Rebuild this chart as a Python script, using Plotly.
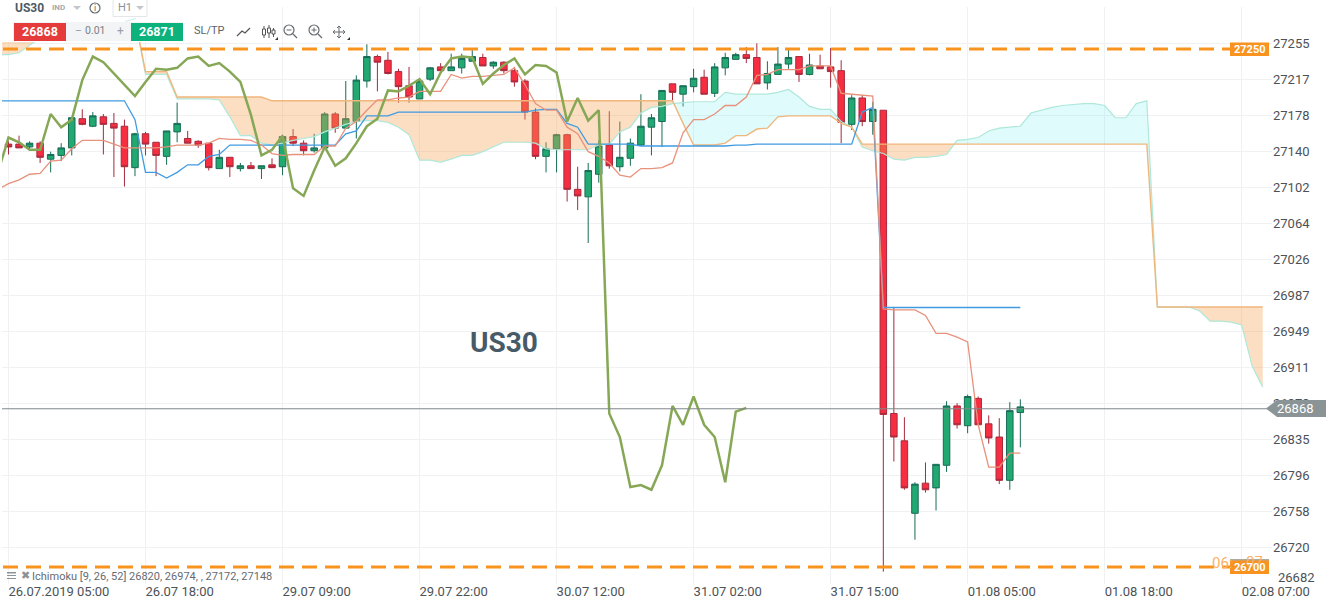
import plotly.graph_objects as go

# ---------- data ----------
bar_opens = [
27149,27149,27146,27150,27133,27137,27145,27176,27168,27178,
27171,27168,27124,27160,27151,27136,27162,27155,27152,27150,
27123,27135,27123,27126,27123,27127,27125,27157,27150,27142,
27145,27181,27166,27173,27216,27242,27238,27226,27211,27197,
27218,27231,27227,27230,27237,27241,27232,27236,27227,27216,
27183,27136,27144,27159,27101,27093,27117,27148,27125,27134,
27148,27167,27173,27213,27202,27210,27220,27203,27230,27239,
27244,27241,27214,27223,27234,27242,27223,27232,27231,27227,
27170,27198,27173,27185,26863,26834,26757,26789,26784,26808,
26871,26850,26879,26852,26838,26792,26864]
bar_closes = [
27146,27145,27150,27135,27138,27145,27177,27170,27179,27170,
27166,27125,27160,27149,27137,27163,27171,27150,27148,27124,
27135,27125,27126,27123,27126,27124,27157,27150,27142,27145,
27181,27166,27176,27217,27242,27236,27224,27210,27199,27216,
27230,27227,27231,27240,27242,27232,27236,27227,27215,27183,
27136,27144,27159,27101,27094,27121,27147,27126,27135,27150,
27168,27177,27206,27204,27211,27219,27202,27231,27241,27244,
27240,27213,27224,27234,27241,27223,27233,27229,27226,27172,
27198,27173,27186,26862,26838,26784,26788,26782,26809,26871,
26851,26881,26851,26837,26792,26866,26870]
bar_highs = [
27152,27158,27152,27152,27141,27150,27177,27186,27183,27181,
27182,27175,27161,27162,27151,27163,27193,27163,27153,27150,
27143,27135,27129,27130,27126,27134,27159,27165,27153,27160,
27183,27183,27216,27222,27255,27244,27247,27229,27231,27218,
27231,27235,27245,27245,27249,27245,27237,27237,27231,27218,
27187,27151,27160,27160,27125,27129,27153,27184,27173,27155,
27202,27181,27206,27213,27211,27229,27228,27235,27246,27246,
27252,27256,27237,27252,27249,27242,27245,27244,27251,27238,
27201,27201,27194,27185,26976,26859,26790,26811,26809,26876,
26874,26883,26881,26861,26858,26875,26878]
bar_lows = [
27138,27145,27142,27129,27119,27131,27137,27169,27167,27138,
27114,27104,27115,27137,27115,27127,27151,27150,27145,27121,
27123,27114,27120,27123,27112,27124,27116,27147,27137,27140,
27144,27161,27165,27155,27209,27205,27223,27193,27193,27197,
27216,27227,27227,27224,27237,27232,27229,27224,27210,27175,
27133,27119,27119,27088,27079,27044,27108,27123,27120,27126,
27147,27137,27146,27194,27189,27204,27202,27199,27222,27239,
27235,27213,27207,27223,27229,27215,27222,27229,27209,27150,
27164,27168,27159,26695,26812,26782,26729,26779,26760,26801,
26847,26842,26851,26831,26788,26782,26827]

# Ichimoku series: the first value of each belongs to the bar before the first candle
tenkan = [27101,
27107,27111,27117,27118,27131,27132,27144,27153,27153,27153,
27149,27145,27145,27145,27145,27146,27148,27148,27148,27150,
27155,27154,27154,27153,27148,27139,27137,27138,27138,27138,
27147,27147,27166,27173,27185,27196,27196,27198,27199,27205,
27205,27205,27223,27219,27221,27221,27222,27223,27230,27212,
27192,27185,27185,27167,27160,27141,27136,27129,27116,27114,
27123,27123,27124,27129,27161,27175,27175,27181,27190,27190,
27199,27222,27223,27228,27228,27228,27232,27232,27232,27203,
27202,27201,27200,26974,26973,26973,26973,26967,26948,26948,
26944,26939,26851,26806,26806,26821,26821]
kijun = [27195,
27195,27195,27195,27195,27195,27195,27195,27195,27195,27195,
27195,27195,27175,27119,27119,27113,27119,27127,27127,27136,
27138,27148,27148,27148,27148,27148,27148,27148,27148,27148,
27148,27148,27160,27163,27179,27179,27179,27183,27183,27183,
27183,27183,27183,27183,27183,27183,27183,27183,27183,27183,
27185,27186,27186,27171,27167,27149,27149,27149,27149,27149,
27147,27147,27147,27147,27147,27147,27147,27147,27147,27148,
27148,27149,27149,27149,27149,27149,27149,27149,27149,27149,
27149,27183,27188,26975.5,26975.5,26975.5,26975.5,26975.5,26975.5,26975.5,
26975.5,26975.5,26975.5,26975.5,26975.5,26975.5,26975.5]
chikou = [27119,
27156,27151,27143,27143,27181,27167,27175,27217,27242,27236,
27224,27211,27200,27215,27229,27228,27230,27240,27242,27232,
27235,27226,27215,27180,27137,27143,27158,27102,27094,27121,
27146,27126,27134,27150,27168,27176,27206,27205,27211,27218,
27202,27225,27240,27242,27241,27213,27224,27233,27240,27223,
27233,27232,27225,27173,27198,27174,27185,26863,26838,26785,
26787,26782,26808,26871,26851,26881,26851,26838,26790,26865,26869]
span_a = [27244,
27244,27246,27254,27262,27264,27264,27266,27267,27269,27272,
27275,27279,27282,27223,27223,27223,27197,27197,27197,27197,
27196,27178,27158,27158,27150,27148,27150,27153,27155,27157,
27162,27166,27170,27173,27174,27174,27172,27167,27159,27132,
27132,27130,27133,27137,27137,27141,27146,27151,27151,27151,
27150,27144,27143,27143,27143,27143,27148,27149,27162,27167,
27182,27188,27189,27192,27193,27194,27194,27194,27204,27202,
27202,27202,27202,27204,27207,27199,27189,27186,27186,27173,
27167,27146,27142,27139,27133,27132,27135,27135,27136,27138,
27153,27154,27156,27163,27166,27167,27168,27182,27185,27188,
27190,27191,27192,27192,27190,27177,27177,27192,27195,26976,
26976,26976,26976,26972,26961,26961,26960,26957,26913,26891]
span_b = [27282,
27282,27282,27282,27282,27282,27282,27282,27282,27282,27282,
27282,27282,27282,27226,27226,27226,27199,27199,27199,27199,
27199,27199,27199,27199,27199,27195,27195,27195,27195,27195,
27195,27195,27195,27195,27195,27195,27195,27195,27195,27195,
27195,27195,27195,27195,27195,27195,27195,27195,27195,27195,
27195,27195,27195,27195,27195,27195,27195,27195,27195,27195,
27195,27195,27195,27195,27171,27148,27148,27148,27150,27158,
27158,27165,27166,27178,27179,27179,27179,27179,27179,27171,
27167,27149,27149,27149,27149,27149,27149,27149,27149,27149,
27149,27149,27149,27149,27149,27149,27149,27149,27149,27149,
27149,27149,27149,27149,27149,27149,27149,27149,27149,26976,
26976,26976,26976,26976,26976,26976,26976,26976,26976,26976]

y_tick_vals = [27256.3,27218.1,27179.9,27141.7,27103.4,27065.2,27027.0,26988.8,
               26950.5,26912.3,26874.1,26835.9,26797.6,26759.4,26721.2,26683.0]
y_tick_labels = ["27255","27217","27178","27140","27102","27064","27026","26987",
                 "26949","26911","26873","26835","26796","26758","26720","26682"]
x_tick_bars = [0,13,26,39,52,65,78,91,104,117]
x_tick_labels = ["26.07.2019 05:00","26.07 18:00","29.07 09:00","29.07 22:00","30.07 12:00",
                 "31.07 02:00","31.07 15:00","01.08 05:00","01.08 18:00","02.08 07:00"]
level_high, level_low, last_price, bid, ask = 27250, 26700, 26868, 26868, 26871

# ---------- frame ----------
W, H = 1331, 603
L, R, T, B = 2, 1272, 7, 584
X0, DX = 8.5, 10.54
Y_AT_0, Y_PER_PX = 27302.03, 1.0618
x_range = [(L - X0) / DX, (R - X0) / DX]
y_range = [Y_AT_0 - B * Y_PER_PX, Y_AT_0 - T * Y_PER_PX]

def px(x): return (x - L) / (R - L)
def py(y): return (B - y) / (B - T)
def path(points, close=False):
    s = "M" + " L".join(f"{px(a):.5f},{py(b):.5f}" for a, b in points)
    return s + (" Z" if close else "")

shapes, notes = [], []
def poly(points, fill=None, line=None, width=1, close=True):
    shapes.append(dict(type="path", xref="paper", yref="paper", path=path(points, close),
                       fillcolor=fill if fill else "rgba(0,0,0,0)",
                       line=dict(color=line if line else "rgba(0,0,0,0)", width=width), layer="above"))
def rect(x0, y0, x1, y1, fill, line=None):
    shapes.append(dict(type="rect", xref="paper", yref="paper", x0=px(x0), x1=px(x1), y0=py(y1), y1=py(y0),
                       fillcolor=fill, line=dict(color=line if line else "rgba(0,0,0,0)", width=1), layer="above"))
def circle(x0, y0, x1, y1, line, width=1.2):
    shapes.append(dict(type="circle", xref="paper", yref="paper", x0=px(x0), x1=px(x1), y0=py(y1), y1=py(y0),
                       fillcolor="rgba(0,0,0,0)", line=dict(color=line, width=width), layer="above"))
def text(x, y, s, size=12, color="#555", bold=False, anchor="left", family="Roboto"):
    notes.append(dict(xref="paper", yref="paper", x=px(x), y=py(y), text=f"<b>{s}</b>" if bold else s,
                      showarrow=False, xanchor=anchor, yanchor="middle", borderpad=0,
                      font=dict(family=family, size=size, color=color)))

# ---------- traces ----------
fig = go.Figure()
bars = list(range(len(bar_opens)))
fig.add_trace(go.Candlestick(
    x=bars, open=bar_opens, high=bar_highs, low=bar_lows, close=bar_closes, whiskerwidth=0,
    increasing=dict(line=dict(color="#176b55", width=1), fillcolor="#22a972"),
    decreasing=dict(line=dict(color="#a52a3c", width=1), fillcolor="#f72e42"),
    showlegend=False, hoverinfo="skip"))

span_x = list(range(-1, len(span_a) - 1))
def cloud_runs():
    runs, cur, sign = [], [], None
    for k in range(len(span_x)):
        s = 1 if span_a[k] >= span_b[k] else -1
        if sign is not None and s != sign:
            d0 = span_a[k - 1] - span_b[k - 1]
            d1 = span_a[k] - span_b[k]
            t = d0 / (d0 - d1)
            xc = span_x[k - 1] + t
            yc = span_a[k - 1] + t * (span_a[k] - span_a[k - 1])
            cur.append((xc, yc, yc))
            runs.append((sign, cur))
            cur = [(xc, yc, yc)]
        cur.append((span_x[k], span_a[k], span_b[k]))
        sign = s
    runs.append((sign, cur))
    return runs
for sign, run in cloud_runs():
    xs = [r[0] for r in run] + [r[0] for r in reversed(run)]
    ys = [r[1] for r in run] + [r[2] for r in reversed(run)]
    fig.add_trace(go.Scatter(x=xs, y=ys, mode="lines", fill="toself", line=dict(width=0),
                             fillcolor="rgba(100,235,240,0.20)" if sign > 0 else "rgba(245,160,80,0.35)",
                             showlegend=False, hoverinfo="skip"))
def add_line(values, color, width):
    fig.add_trace(go.Scatter(x=list(range(-1, len(values) - 1)), y=values, mode="lines",
                             line=dict(color=color, width=width), showlegend=False, hoverinfo="skip"))
add_line(span_a, "#aee8da", 1.2)
add_line(span_b, "#f0b67c", 1.4)
add_line(kijun, "#3f9be2", 1.3)
add_line(tenkan, "#e8917b", 1.3)
add_line(chikou, "#86a856", 2.5)

# toolbar mask (sits above the cloud that runs behind the toolbar)
rect(0, 0, 185, 42, "#ffffff")
poly([(125, 21.5), (136, 18.5)], line="#c4f0ea", width=1, close=False)

# ---------- level lines ----------
x_dash_start = (3 - X0) / DX
x_box = (1230 - X0) / DX
for lv in (level_high, level_low):
    shapes.append(dict(type="line", xref="x", yref="y", x0=x_dash_start, x1=x_box, y0=lv, y1=lv, layer="above",
                       line=dict(color="#f7931e", width=3, dash="15px,8px")))
shapes.append(dict(type="line", xref="paper", yref="y", x0=0, x1=1, y0=last_price, y1=last_price, layer="above",
                   line=dict(color="#7f878a", width=1)))

# price tag
poly([(1266, 408.5), (1277, 400), (1326, 400), (1326, 417), (1277, 417)], fill="#8a9497")
text(1295, 408.8, str(last_price), 13, "#ffffff", False, "center")
rect(1230, 42.5, 1269, 56, "#f7931e")
text(1249.5, 49, str(level_high), 11, "#ffffff", True, "center")
text(1211, 562.5, "06:", 15, "#f9b266")
text(1245, 562, "07", 15, "#f9b266")
rect(1230, 559, 1269, 567, "rgba(150,140,125,0.75)")
rect(1230, 560.5, 1269, 574, "#f7931e")
text(1249.5, 567, str(level_low), 11, "#ffffff", True, "center")
text(1277, 577.5, y_tick_labels[-1], 13, "#4d5257")

# watermark + legend
text(504, 342, "US30", 28, "#475a68", True, "center", "Roboto")
rect(7, 572, 16, 573.5, "#8d9296"); rect(7, 575, 16, 576, "#8d9296"); rect(7, 578, 16, 579, "#8d9296")
text(19.5, 575.5, "✖", 11, "#8d9296")
text(31, 576, "Ichimoku [9, 26, 52] 26820, 26974, , 27172, 27148", 11, "#666b70")

# toolbar
text(14, 8, "US30", 12, "#4c5b66", True)
text(51, 8, "IND", 8, "#a4aab0", True)
poly([(73, 6), (81, 6), (77, 10)], fill="#c3c7cb")
circle(90, 3, 100, 13, "#666b70")
text(95, 8, "i", 9, "#666b70", False, "center")
rect(113, -1, 147, 16.5, "#ffffff", "#e4e6e8")
text(117, 8, "H1", 11, "#8d9296")
poly([(136, 6), (144, 6), (140, 10)], fill="#c3c7cb")
rect(13, 22, 183, 41, "#f3f4f5")
rect(14, 23, 66, 41, "#e53b3b")
rect(131, 23, 183, 41, "#0cb27c")
text(40, 32, str(bid), 12.5, "#ffffff", True, "center")
text(157, 32, str(ask), 12.5, "#ffffff", True, "center")
text(78, 31, "−", 12, "#9aa0a5", False, "center")
text(95, 31, "0.01", 10.5, "#7a8086", False, "center")
text(120, 31, "+", 12, "#9aa0a5", False, "center")
text(193, 31, "SL/TP", 11, "#5c6268")
poly([(237, 36), (242, 31), (245, 33), (250, 28)], line="#555", width=1.2, close=False)
for cx, top, bot, bt, bb in ((264, 26, 38, 29, 35), (269, 25, 38, 28, 33), (273.5, 28, 37, 30, 34)):
    poly([(cx, top), (cx, bot)], line="#555", width=1, close=False)
    rect(cx - 1.5, bt, cx + 1.5, bb, "#ffffff", "#555")
poly([(275, 40), (278, 40), (278, 37)], fill="#333")
circle(284, 25, 294, 35, "#666b70")
poly([(293, 34), (297, 38)], line="#666b70", width=1.2, close=False)
poly([(286.5, 30), (291.5, 30)], line="#666b70", width=1, close=False)
circle(309, 25, 319, 35, "#666b70")
poly([(318, 34), (322, 38)], line="#666b70", width=1.2, close=False)
poly([(311.5, 30), (316.5, 30)], line="#666b70", width=1, close=False)
poly([(314, 27.5), (314, 32.5)], line="#666b70", width=1, close=False)
poly([(333, 32), (345, 32)], line="#666b70", width=1, close=False)
poly([(339, 26), (339, 38)], line="#666b70", width=1, close=False)
poly([(337, 28), (339, 26), (341, 28)], line="#666b70", width=1, close=False)
poly([(337, 36), (339, 38), (341, 36)], line="#666b70", width=1, close=False)
poly([(335, 30), (333, 32), (335, 34)], line="#666b70", width=1, close=False)
poly([(343, 30), (345, 32), (343, 34)], line="#666b70", width=1, close=False)
poly([(347, 40), (350, 40), (350, 37)], fill="#333")

fig.update_layout(
    width=W, height=H, autosize=False, paper_bgcolor="#ffffff", plot_bgcolor="#ffffff",
    margin=dict(l=L, r=W - R, t=T, b=H - B, pad=0), showlegend=False, boxgap=0.12,
    shapes=shapes, annotations=notes, font=dict(family="Roboto", size=12, color="#555"),
    xaxis=dict(type="linear", range=x_range, rangeslider=dict(visible=False), tickmode="array",
               tickvals=x_tick_bars, ticktext=x_tick_labels, showgrid=True, gridcolor="#eff1f3", gridwidth=1,
               zeroline=False, showline=False, ticks="", ticklabelposition="outside right", ticklabelstandoff=-2,
               tickfont=dict(family="Roboto", size=13, color="#4d5257")),
    yaxis=dict(range=y_range, side="right", tickmode="array", tickvals=y_tick_vals,
               ticktext=y_tick_labels[:-1] + [""],
               showgrid=True, gridcolor="#eff1f3", gridwidth=1, zeroline=False, showline=False, ticks="",
               tickfont=dict(family="Roboto", size=13, color="#4d5257")),
)
fig.write_html("out.html", config=dict(displayModeBar=False),
               post_script="document.body.style.margin='0';document.body.style.overflow='hidden';")
